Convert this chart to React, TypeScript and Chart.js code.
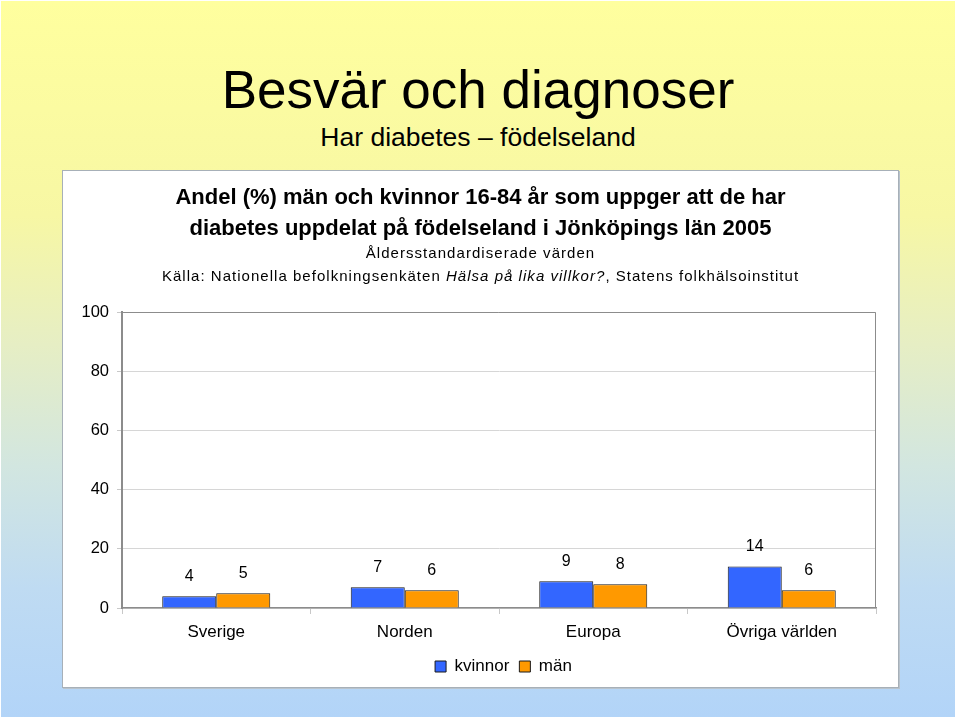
import React, { useEffect, useRef } from "react";
import { Chart, registerables } from "chart.js";

Chart.register(...registerables);

// ---- data ----
const categories = ["Sverige", "Norden", "Europa", "Övriga världen"];
const kvinnor = [4, 7, 9, 14];
const man = [5, 6, 8, 6];
const seriesNames = ["kvinnor", "män"];
const yTicks = [0, 20, 40, 60, 80, 100];

const pageTitle = "Besvär och diagnoser";
const pageSubtitle = "Har diabetes – födelseland";
const chartTitle1 = "Andel (%) män och kvinnor 16-84 år som uppger att de har";
const chartTitle2 = "diabetes uppdelat på födelseland i Jönköpings län 2005";
const note = "Åldersstandardiserade värden";
const sourcePre = "Källa: Nationella befolkningsenkäten ";
const sourceItalic = "Hälsa på lika villkor?";
const sourcePost = ", Statens folkhälsoinstitut";

const FONT = '"Liberation Sans", Arial, Helvetica, sans-serif';

const dataLabels = {
  id: "dataLabels",
  afterDatasetsDraw(chart: any) {
    const ctx = chart.ctx;
    ctx.save();
    ctx.font = `16px ${FONT}`;
    ctx.fillStyle = "#000";
    ctx.textAlign = "center";
    ctx.textBaseline = "middle";
    chart.data.datasets.forEach((ds: any, di: number) => {
      const meta = chart.getDatasetMeta(di);
      meta.data.forEach((bar: any, i: number) => {
        ctx.fillText(String(ds.data[i]), bar.x, bar.y - 19.5);
      });
    });
    ctx.restore();
  },
};

const plotFrame = {
  id: "plotFrame",
  afterDraw(chart: any) {
    const { ctx, chartArea } = chart;
    ctx.save();
    ctx.strokeStyle = "#8c8c8c";
    ctx.lineWidth = 1;
    ctx.beginPath();
    ctx.moveTo(chartArea.left, chartArea.top + 0.5);
    ctx.lineTo(chartArea.right - 0.5, chartArea.top + 0.5);
    ctx.lineTo(chartArea.right - 0.5, chartArea.bottom);
    ctx.stroke();
    ctx.restore();
  },
};

// shift the legend block to the right, as in the original
const legendShift = {
  id: "legendShift",
  afterLayout(chart: any) {
    if (chart.legend) {
      chart.legend.left += 34;
      chart.legend.right += 34;
    }
  },
};

function BarChart() {
  const ref = useRef<HTMLCanvasElement | null>(null);
  useEffect(() => {
    if (!ref.current) return;
    const chart = new Chart(ref.current, {
      type: "bar",
      data: {
        labels: categories,
        datasets: [
          {
            label: seriesNames[0],
            data: kvinnor,
            backgroundColor: "#3366ff",
            borderColor: "#1a1a1a",
            borderWidth: 1,
            categoryPercentage: 0.573,
            barPercentage: 1,
          },
          {
            label: seriesNames[1],
            data: man,
            backgroundColor: "#ff9900",
            borderColor: "#1a1a1a",
            borderWidth: 1,
            categoryPercentage: 0.573,
            barPercentage: 1,
          },
        ],
      },
      options: {
        animation: false,
        responsive: false,
        maintainAspectRatio: false,
        layout: { padding: { left: 0, right: 22, top: 141, bottom: 2 } },
        plugins: {
          title: { display: false },
          tooltip: { enabled: false },
          legend: {
            display: true,
            position: "bottom",
            labels: {
              boxWidth: 11,
              boxHeight: 11,
              padding: 10,
              color: "#000",
              font: { family: FONT, size: 17 },
            },
          },
        },
        scales: {
          x: {
            grid: {
              offset: true,
              drawOnChartArea: false,
              drawTicks: true,
              tickLength: 6,
              tickColor: "#c8c8c8",
            },
            border: { display: true, color: "#8c8c8c", width: 1.5 },
            ticks: {
              color: "#000",
              padding: 8,
              font: { family: FONT, size: 17 },
              maxRotation: 0,
              autoSkip: false,
            },
            afterFit(scale: any) {
              scale.height = 40;
            },
          },
          y: {
            min: yTicks[0],
            max: yTicks[yTicks.length - 1],
            ticks: {
              stepSize: yTicks[1] - yTicks[0],
              color: "#000",
              padding: 8,
              font: { family: FONT, size: 16.5 },
            },
            grid: {
              color: "#d6d6d6",
              lineWidth: 1,
              tickLength: 5,
              tickColor: "#c8c8c8",
            },
            border: { display: true, color: "#8c8c8c", width: 2 },
            afterFit(scale: any) {
              scale.width = 59;
            },
          },
        },
      },
      plugins: [dataLabels, plotFrame, legendShift],
    });
    return () => chart.destroy();
  }, []);
  return (
    <canvas
      ref={ref}
      width={835}
      height={516}
      style={{ position: "absolute", left: 0, top: 0, width: 835, height: 516 }}
    />
  );
}

function TextLine(props: {
  top: number;
  size: number;
  bold?: boolean;
  spacing?: number;
  children: any;
}) {
  return (
    <div
      style={{
        position: "absolute",
        left: 0,
        width: "100%",
        top: props.top,
        fontSize: props.size,
        lineHeight: `${props.size}px`,
        fontWeight: props.bold ? "bold" : "normal",
        letterSpacing: props.spacing ? `${props.spacing}px` : "normal",
        textAlign: "center",
        whiteSpace: "nowrap",
        color: "#000",
      }}
    >
      {props.children}
    </div>
  );
}

export default function App() {
  return (
    <div
      style={{
        position: "absolute",
        left: 0,
        top: 0,
        width: 960,
        height: 720,
        background: "#ffffff",
        fontFamily: FONT,
        overflow: "hidden",
      }}
    >
      <div
        style={{
          position: "absolute",
          left: 1,
          top: 1,
          width: 954,
          height: 716,
          background:
            "linear-gradient(to bottom, #ffff9e 0%, #f7f7a4 30%, #e6eec4 48%, #d2e6e0 65%, #bfdbf2 82%, #b2d4f8 100%)",
        }}
      >
        <TextLine top={62} size={53}>
          {pageTitle}
        </TextLine>
        <TextLine top={123} size={26.5}>
          {pageSubtitle}
        </TextLine>
      </div>
      <div
        style={{
          position: "absolute",
          left: 63,
          top: 171,
          width: 835,
          height: 516,
          background: "#ffffff",
          boxShadow: "0 0 0 1px #a7b0b8, 1px 1px 0 1px #b9c3cc",
        }}
      >
        <BarChart />
        <TextLine top={186.4 - 171} size={22} bold>
          {chartTitle1}
        </TextLine>
        <TextLine top={217.4 - 171} size={22} bold>
          {chartTitle2}
        </TextLine>
        <TextLine top={245.3 - 171} size={15} spacing={1.05}>
          {note}
        </TextLine>
        <TextLine top={268.3 - 171} size={15} spacing={1.03}>
          {sourcePre}
          <i>{sourceItalic}</i>
          {sourcePost}
        </TextLine>
      </div>
    </div>
  );
}
